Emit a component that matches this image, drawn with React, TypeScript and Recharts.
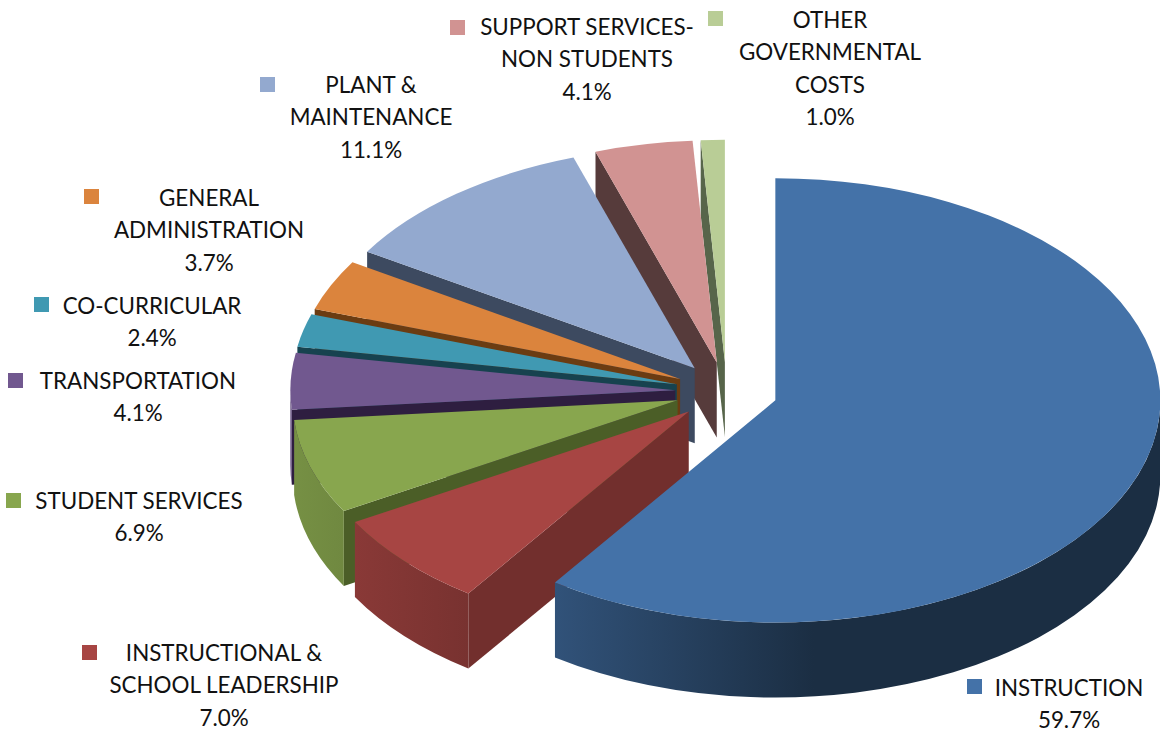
import React from "react";
import { PieChart, Pie } from "recharts";

// Budget shares, listed from the 12 o'clock slice going counter-clockwise,
// so the front slices paint last and overlap the ones behind them.
const categories = [
  "OTHER\nGOVERNMENTAL\nCOSTS",
  "SUPPORT SERVICES-\nNON STUDENTS",
  "PLANT &\nMAINTENANCE",
  "GENERAL\nADMINISTRATION",
  "CO-CURRICULAR",
  "TRANSPORTATION",
  "STUDENT SERVICES",
  "INSTRUCTIONAL &\nSCHOOL LEADERSHIP",
  "INSTRUCTION",
];
const shares = [1.0, 4.1, 11.1, 3.7, 2.4, 4.1, 6.9, 7.0, 59.7];

const topColors = ["#b9cd96", "#d19392", "#93a9cf", "#db843d", "#4099b2", "#71588f", "#88a64e", "#a74543", "#4472a8"];
const wallColors = ["#57654a", "#563b3b", "#3d4a60", "#6b3c12", "#17424f", "#2e1e40", "#4b5e27", "#722f2d", "#1b2d45"];

// label block centre x, first line centre y, swatch left, swatch top
const labelSpots = [
  [830, 20, 708, 11],
  [587, 27, 450, 20],
  [371, 85, 260, 77],
  [209, 198, 84, 189],
  [152, 306, 34, 297],
  [138, 381, 8, 373],
  [139, 501, 6, 493],
  [224, 653, 82, 645],
  [1069, 688, 967, 679],
];

const rows = categories.map((name, i) => ({ name, value: shares[i], fill: topColors[i] }));

const CENTER_X = 726.5;
const CENTER_Y = 391.5;
const RADIUS = 385;
const SQUASH = 0.577; // vertical / horizontal radius of the tilted disc
const DEPTH = 75;
const EXPLODE = 0.133;
const LINE_HEIGHT = 32.5;

const RAD = Math.PI / 180;

function shade(hex: string, k: number) {
  const n = parseInt(hex.slice(1), 16);
  const c = [(n >> 16) & 255, (n >> 8) & 255, n & 255].map((v) => Math.round(v * k));
  return `rgb(${c.join(",")})`;
}

// Top face, visible radial cuts and front rim of one slice
const Slice3D = (props: any) => {
  const { startAngle, endAngle, cx, cy, outerRadius, fill, index } = props;
  const rx = outerRadius;
  const ry = outerRadius * SQUASH;
  const mid = ((startAngle + endAngle) / 2) * RAD;
  const ox = cx + EXPLODE * rx * Math.cos(mid);
  const oy = cy - EXPLODE * ry * Math.sin(mid);
  const at = (deg: number, drop = 0): [number, number] => [
    ox + rx * Math.cos(deg * RAD),
    oy - ry * Math.sin(deg * RAD) + drop,
  ];
  const large = endAngle - startAngle > 180 ? 1 : 0;
  const [sx, sy] = at(startAngle);
  const [ex, ey] = at(endAngle);

  const wall = (deg: number) => {
    const [px, py] = at(deg);
    return `M${ox},${oy} L${px},${py} L${px},${py + DEPTH} L${ox},${oy + DEPTH} Z`;
  };

  // the rim only shows where the disc edge faces the viewer
  const rimFrom = Math.max(startAngle, 180);
  const rimTo = Math.min(endAngle, 360);
  let rim = null;
  if (rimTo > rimFrom) {
    const [ax, ay] = at(rimFrom);
    const [bx, by] = at(rimTo);
    const big = rimTo - rimFrom > 180 ? 1 : 0;
    rim = `M${ax},${ay} A${rx},${ry} 0 ${big} 0 ${bx},${by} L${bx},${by + DEPTH} A${rx},${ry} 0 ${big} 1 ${ax},${ay + DEPTH} Z`;
  }

  const gradId = `rim-${index}`;
  return (
    <g>
      <defs>
        <linearGradient id={gradId} gradientUnits="userSpaceOnUse" x1={ox - rx} x2={ox + rx} y1={0} y2={0}>
          <stop offset="0" stopColor={shade(fill, 0.87)} />
          <stop offset="0.215" stopColor={shade(fill, 0.72)} />
          <stop offset="0.55" stopColor={shade(fill, 0.4)} />
          <stop offset="1" stopColor={shade(fill, 0.4)} />
        </linearGradient>
      </defs>
      {Math.cos(endAngle * RAD) < -1e-6 && <path d={wall(endAngle)} fill={wallColors[index]} />}
      {Math.cos(startAngle * RAD) > 1e-6 && <path d={wall(startAngle)} fill={wallColors[index]} />}
      {rim && <path d={rim} fill={`url(#${gradId})`} />}
      <path d={`M${ox},${oy} L${sx},${sy} A${rx},${ry} 0 ${large} 0 ${ex},${ey} Z`} fill={fill} />
    </g>
  );
};

const SliceLabel = (props: any) => {
  const { index, name, value, fill } = props;
  const [x, y, swatchX, swatchY] = labelSpots[index];
  const lines = [...String(name).split("\n"), `${Number(value).toFixed(1)}%`];
  return (
    <g>
      <rect x={swatchX} y={swatchY} width={15} height={15} fill={fill} />
      <text x={x} textAnchor="middle" fontFamily="Lato" fontSize={22.4} fill="#111">
        {lines.map((line, i) => (
          <tspan key={i} x={x} y={y + i * LINE_HEIGHT} dy="0.35em">
            {line}
          </tspan>
        ))}
      </text>
    </g>
  );
};

const App = () => (
  <div style={{ position: "absolute", left: 0, top: 0 }}>
    <PieChart width={1160} height={736} margin={{ top: 0, right: 0, bottom: 0, left: 0 }}>
      <Pie
        data={rows}
        dataKey="value"
        nameKey="name"
        cx={CENTER_X}
        cy={CENTER_Y}
        outerRadius={RADIUS}
        startAngle={90}
        endAngle={450}
        stroke="none"
        shape={Slice3D}
        label={SliceLabel}
        labelLine={false}
        isAnimationActive={false}
      />
    </PieChart>
  </div>
);

export default App;
